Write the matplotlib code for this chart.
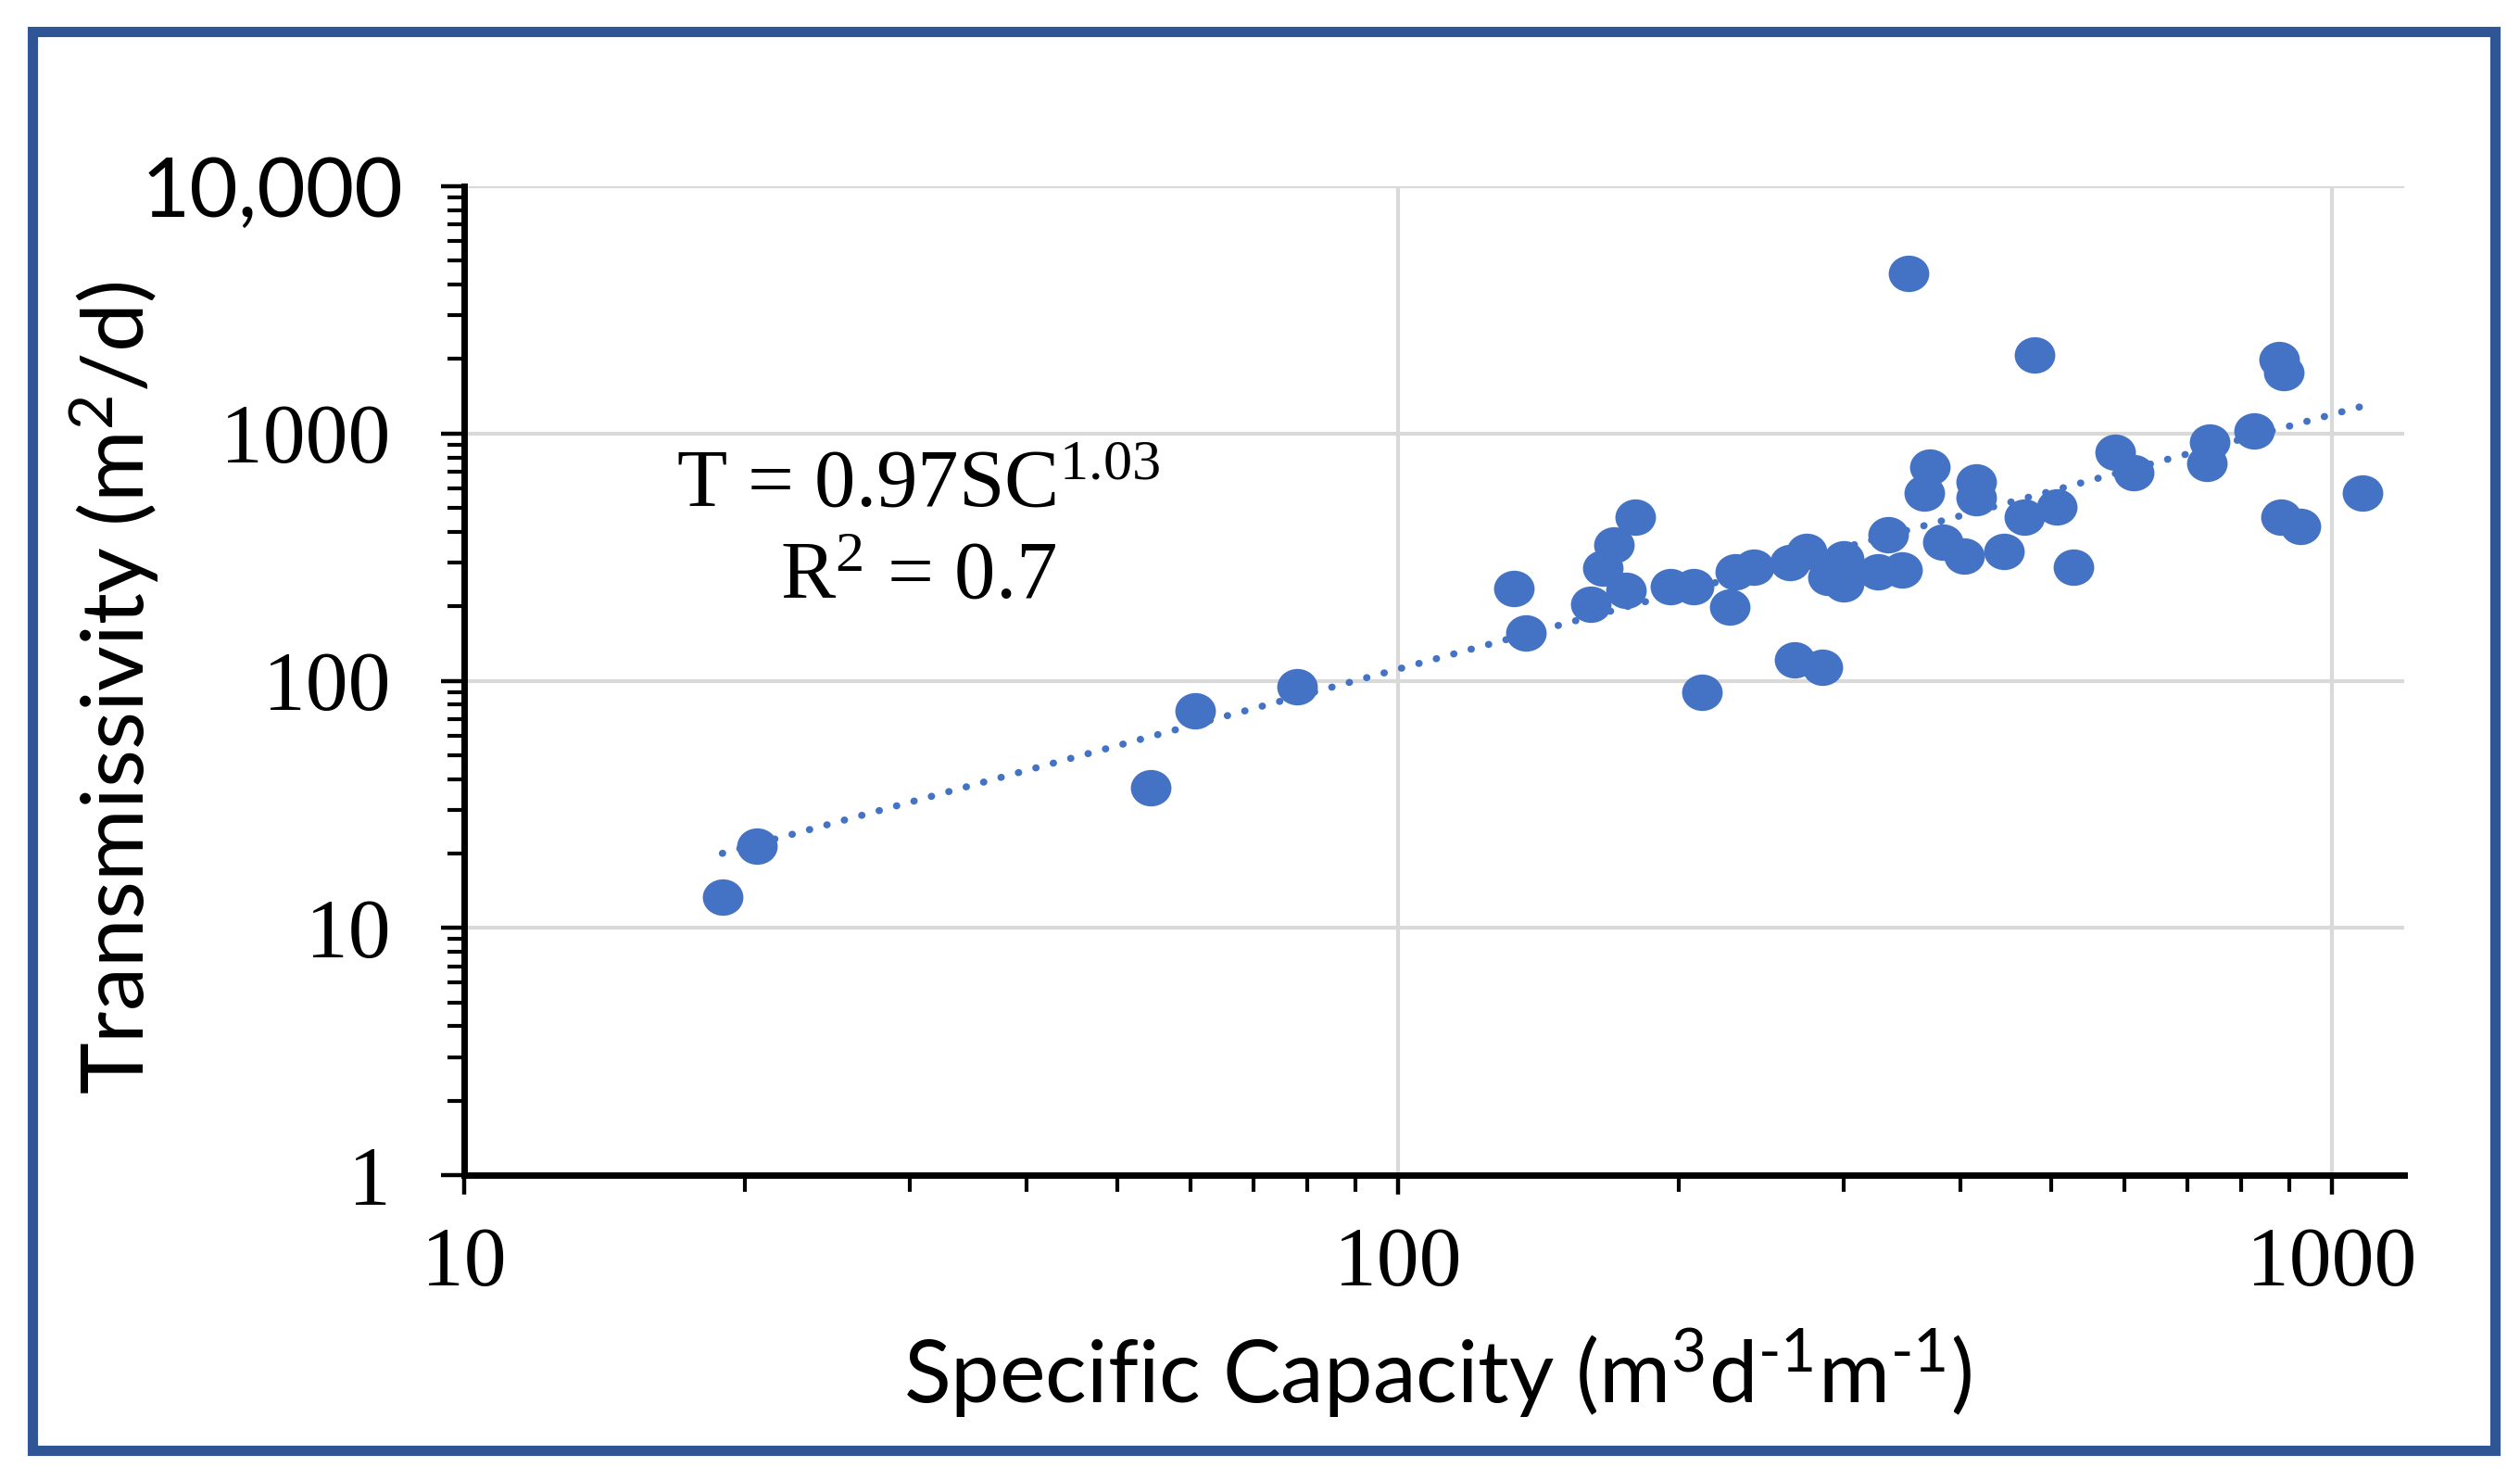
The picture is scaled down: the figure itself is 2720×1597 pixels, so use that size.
import matplotlib
matplotlib.use('Agg')
import matplotlib.pyplot as plt
import numpy as np
from matplotlib.patches import Rectangle
from matplotlib.markers import MarkerStyle
from matplotlib.transforms import Affine2D, ScaledTranslation
from matplotlib.ticker import FixedLocator, FixedFormatter, NullFormatter, LogLocator

# ---------------- data ----------------
sc = [18.9, 20.6, 54.3, 60.7, 78.0, 133, 137, 160.7, 165.5, 170.2, 175.4, 179.5,
      195.7, 207.3, 211.5, 226.4, 229.6, 240.4, 262.9, 265.9, 273.8, 285.0, 288.4,
      299.8, 299.8, 326.6, 334.9, 346.7, 352, 366, 371, 383, 403.6, 416, 416,
      445.5, 468, 480, 507.6, 528.5, 586, 613.6, 735, 740, 825.5, 877, 882, 888,
      925, 1078]
t = [13.3, 21.5, 36.9, 75.7, 94.9, 236, 156, 204, 285, 354, 232, 459,
     240, 240, 89.8, 198.6, 275, 288, 300.7, 121, 333, 113, 262,
     311, 246.6, 275, 389, 280, 4446, 574, 730, 363, 319, 637, 550,
     333, 459, 2073, 504, 288, 839, 695, 757, 923, 1023, 1982, 459, 1758,
     421, 574]

coef_a = 0.97
coef_b = 1.03
r_squared = 0.7
eq_line1 = r'T = 0.97SC$^{1.03}$'
eq_line2 = r'R$^{2}$ = 0.7'

x_ticks = [10, 100, 1000]
x_tick_labels = ['10', '100', '1000']
y_ticks = [1, 10, 100, 1000, 10000]
y_tick_labels = ['1', '10', '100', '1000', '10,000']

x_label = 'Specific Capacity (m$^{3}$d$^{\u20101}$m$^{\u20101}$)'
y_label = r'Transmissivity (m$^{2}$/d)'

# ---------------- style ----------------
plt.rcParams['mathtext.default'] = 'regular'
BLUE = '#4472C4'
BORDER = '#2F5597'
GRID = '#D9D9D9'

W, H = 2720, 1597
fig = plt.figure(figsize=(W / 100, H / 100), dpi=100)
fig.patch.set_facecolor('white')


def fx(px):
    return px / W


def fy(py):
    return 1 - py / H


ax = fig.add_axes([fx(501), fy(1268), (2595 - 501) / W, (1268 - 201) / H])
ax.set_xscale('log')
ax.set_yscale('log')
ax.set_xlim(10, 1195)
ax.set_ylim(1, 10000)

for s in ('top', 'right'):
    ax.spines[s].set_visible(False)
for s in ('left', 'bottom'):
    ax.spines[s].set_linewidth(5)
    ax.spines[s].set_color('black')

ax.grid(which='major', color=GRID, lw=3)
ax.set_axisbelow(True)

ax.xaxis.set_major_locator(FixedLocator(x_ticks))
ax.xaxis.set_major_formatter(FixedFormatter(x_tick_labels))
ax.yaxis.set_major_locator(FixedLocator(y_ticks))
ax.yaxis.set_major_formatter(FixedFormatter(y_tick_labels))
ax.xaxis.set_minor_locator(LogLocator(base=10, subs=np.arange(2, 10)))
ax.yaxis.set_minor_locator(LogLocator(base=10, subs=np.arange(2, 10)))
ax.xaxis.set_minor_formatter(NullFormatter())
ax.yaxis.set_minor_formatter(NullFormatter())

ax.tick_params(axis='y', which='major', direction='out', length=18, width=3.2, pad=39)
ax.tick_params(axis='y', which='minor', direction='out', length=13, width=3)
ax.tick_params(axis='x', which='major', direction='out', length=15, width=3.2, pad=25)
ax.tick_params(axis='x', which='minor', direction='out', length=13, width=3)

for lbl in ax.get_xticklabels():
    lbl.set_fontfamily('Liberation Serif')
    lbl.set_fontsize(66)
ylbls = ax.get_yticklabels()
for lbl in ylbls:
    lbl.set_fontfamily('Liberation Serif')
    lbl.set_fontsize(66)
ylbls[-1].set_fontfamily('Lato')
ylbls[-1].set_fontsize(65)
ylbls[-1].set_transform(ylbls[-1].get_transform()
                        + ScaledTranslation(0.14, 0, fig.dpi_scale_trans))

# scatter
mk = MarkerStyle('o', transform=Affine2D().scale(1.07, 0.96))
ax.scatter(sc, t, s=29.5 ** 2, marker=mk, color=BLUE, linewidths=0, zorder=3)

# trend line (power law)
xl = np.array([min(sc), max(sc)])
ax.plot(xl, coef_a * xl ** coef_b, color=BLUE, lw=5.5, linestyle=(0, (0.05, 2.5)),
        dash_capstyle='round', zorder=4)

# equation
fig.text(fx(991), fy(546), eq_line1, ha='center', va='baseline',
         fontfamily='Liberation Serif', fontsize=64)
fig.text(fx(991), fy(645), eq_line2, ha='center', va='baseline',
         fontfamily='Liberation Serif', fontsize=64)

# axis labels
fig.text(fx(1551), fy(1514), x_label, ha='center', va='baseline',
         fontfamily='Lato', fontsize=67.5)
fig.text(fx(156), fy(742), y_label, ha='center', va='baseline', rotation=90,
         rotation_mode='anchor', fontfamily='Lato', fontsize=68)

# border
fig.add_artist(Rectangle((fx(34.5), fy(1564.5)), (2692.5 - 34.5) / W, (1564.5 - 33.5) / H,
                         transform=fig.transFigure, fill=False, edgecolor=BORDER, lw=8))

fig.savefig('out.png', dpi=100)
